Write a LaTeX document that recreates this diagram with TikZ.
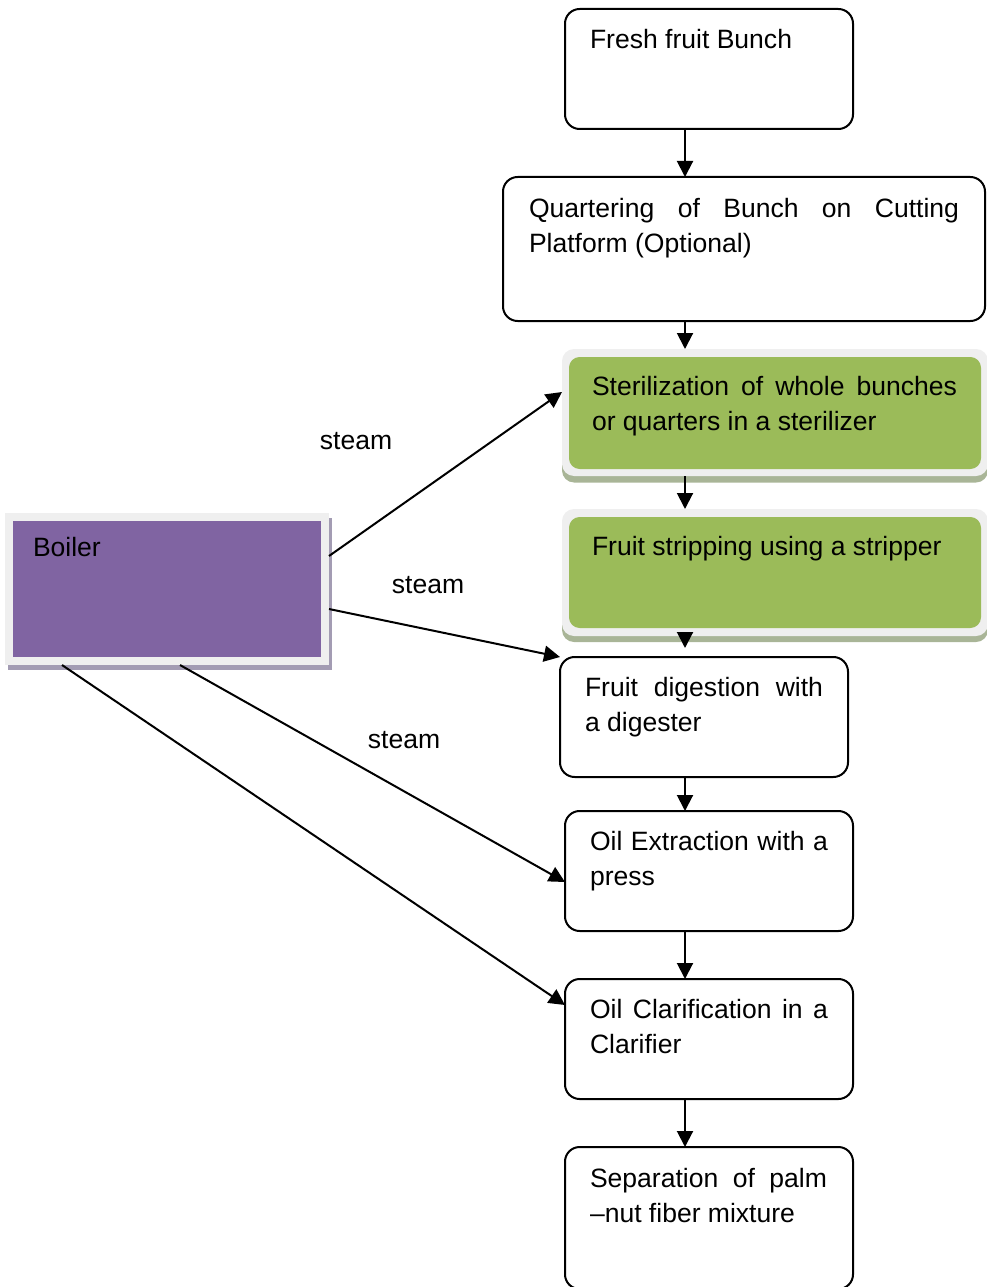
\documentclass[tikz,border=0pt]{standalone}
\usepackage{fontspec}
\setmainfont{Liberation Sans}
\usetikzlibrary{arrows.meta}

\definecolor{leaf}{HTML}{9BBB59}
\definecolor{leafshade}{HTML}{A9B597}
\definecolor{plum}{HTML}{8064A2}
\definecolor{plumshade}{HTML}{A39CB3}
\definecolor{rim}{HTML}{EFEFEF}

% stretch the spaces of a line to a fixed width (justified line)
\newcommand\jl[2]{\makebox[#1][s]{#2}}

\begin{document}
\begin{tikzpicture}[x=0.75pt,y=-0.75pt,
  every node/.style={inner sep=0pt,outer sep=0pt},
  stage/.style={draw=black,line width=1.5pt,rounded corners=11pt,fill=white},
  rimbox/.style={fill=rim,rounded corners=9pt},
  leafbox/.style={fill=leaf,rounded corners=8pt},
  txt/.style={anchor=north west,align=left,font=\fontsize{19.9pt}{26.6pt}\selectfont},
  lbl/.style={anchor=base,font=\fontsize{19.9pt}{26.6pt}\selectfont},
  arr/.style={line width=1.5pt,-{Triangle[length=12pt,width=12pt]}}]

\useasboundingbox (0,0) rectangle (987,1287);

% vertical spine of the process chain
\coordinate (spine) at (685,0);

% ---- process stages ----
\node[stage,minimum width=216pt,minimum height=90pt] (fresh) at (709,69) {};
\node[txt] (freshT) at (590,23.2) {\strut Fresh fruit Bunch};

\node[stage,minimum width=361.5pt,minimum height=108pt] (quarter) at (744,249) {};
\node[txt] (quarterT) at (529,192.2) {\strut\jl{322.5pt}{Quartering of Bunch on Cutting}\\Platform (Optional)};

% highlighted stages: shadow, light rim, green face
\fill[leafshade,rounded corners=9pt] (562,355.5) rectangle (988,482.5);
\node[rimbox,minimum width=319.5pt,minimum height=95.25pt] (steril) at (775,412.5) {};
\node[leafbox,minimum width=309pt,minimum height=84pt] (sterilFace) at (775,413) {};
\node[txt] (sterilT) at (592,370.2) {\strut\jl{273.75pt}{Sterilization of whole bunches}\\or quarters in a sterilizer};

\fill[leafshade,rounded corners=9pt] (562,515) rectangle (988,642);
\node[rimbox,minimum width=319.5pt,minimum height=95.25pt] (strip) at (775,572.5) {};
\node[leafbox,minimum width=309pt,minimum height=83.25pt] (stripFace) at (775,572.5) {};
\node[txt] (stripT) at (592,530.2) {\strut Fruit stripping using a stripper};

\node[stage,minimum width=216pt,minimum height=90pt] (digest) at (704,717) {};
\node[txt] (digestT) at (585,671.2) {\strut\jl{178.5pt}{Fruit digestion with}\\a digester};

\node[stage,minimum width=216pt,minimum height=90pt] (press) at (709,871) {};
\node[txt] (pressT) at (590,825.2) {\strut\jl{178.5pt}{Oil Extraction with a}\\press};

\node[stage,minimum width=216pt,minimum height=90pt] (clarif) at (709,1039) {};
\node[txt] (clarifT) at (590,993.2) {\strut\jl{178.5pt}{Oil Clarification in a}\\Clarifier};

\node[stage,minimum width=216pt,minimum height=106.5pt] (separ) at (709,1218) {};
\node[txt] (separT) at (590,1162.2) {\strut\jl{177.75pt}{Separation of palm}\\–nut fiber mixture};

% ---- boiler ----
\fill[plumshade] (8,518) rectangle (332,670);
\node[fill=rim,minimum width=243pt,minimum height=114pt] (boiler) at (167,589) {};
\node[fill=plum,minimum width=231pt,minimum height=102pt] (boilerFace) at (167,589) {};
\node[txt] (boilerT) at (33,531.2) {\strut Boiler};

% ---- main chain ----
\draw[arr] (fresh.south -| spine) -- (quarter.north -| spine);
\draw[arr] (quarter.south -| spine) -- (steril.north -| spine);
\draw[arr] (steril.south -| spine) -- (strip.north -| spine);
\draw[arr,shorten >=6.75pt] (strip.south -| spine) -- (digest.north -| spine);
\draw[arr] (digest.south -| spine) -- (press.north -| spine);
\draw[arr] (press.south -| spine) -- (clarif.north -| spine);
\draw[arr] (clarif.south -| spine) -- (separ.north -| spine);

% ---- steam lines ----
\draw[arr] (boiler.east |- 0,556) -- (steril.west |- 0,392);
\draw[arr] (boiler.east |- 0,609) -- (digest.north west);
\draw[arr] (boiler.south -| 180,0) -- (press.west |- 0,882);
\draw[arr] (boiler.south -| 62,0) -- (clarif.west |- 0,1005);

\node[lbl] (steam1) at (356,449) {steam};
\node[lbl] (steam2) at (428,593) {steam};
\node[lbl] (steam3) at (404,748) {steam};

\end{tikzpicture}
\end{document}
